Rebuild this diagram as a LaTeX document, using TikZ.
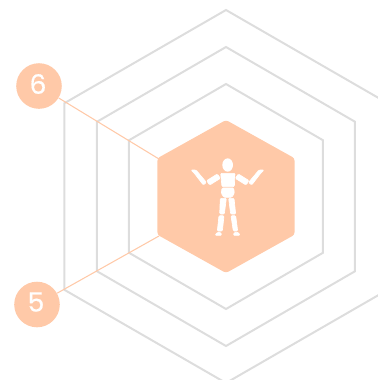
\documentclass[tikz,border=0pt]{standalone}
\usepackage{fontspec}
\setmainfont{Poppins}
\newfontfamily\digitfont{Poppins}[FakeBold=0.5]
\definecolor{peach}{HTML}{FFC9A8}
\definecolor{hexgrey}{HTML}{DDDDDD}
\tikzset{
  x=0.75pt,y=-0.75pt,
  hexline/.style={draw=hexgrey,line width=1.5pt,line join=miter},
  leader/.style={draw=peach,line width=0.8pt},
  badge/.style={circle,fill=peach,draw=none,minimum size=34.2pt,inner sep=0pt},
  digit/.style={text=white,font=\digitfont\fontsize{20}{20}\selectfont,inner sep=0pt},
  body/.style={fill=white,draw=white,line width=0.5pt,line join=round,rounded corners=0.8pt},
}
\newcommand{\hexpath}[2]{(226,196.5-#1) -- (226+#2,196.5-#1/2) -- (226+#2,196.5+#1/2) -- (226,196.5+#1) -- (226-#2,196.5+#1/2) -- (226-#2,196.5-#1/2) -- cycle}
\begin{document}
\begin{tikzpicture}
\useasboundingbox (0,0) rectangle (378,380);
\clip (0,0) rectangle (378,380);
\draw[hexline] \hexpath{186.5}{161.7};
\draw[hexline] \hexpath{149.5}{129};
\draw[hexline] \hexpath{112.5}{97};
\coordinate (hexUL) at (159,159);
\coordinate (hexLL) at (159,236);
\node[badge] (six) at (39,86) {};
\node[badge] (five) at (37,304.5) {};
\draw[leader] (six) -- (hexUL);
\draw[leader] (five) -- (hexLL);
\node[digit] (sixlabel) at (38,84) {6};
\node[digit] (fivelabel) at (36,302) {5};
\fill[peach,rounded corners=2pt] \hexpath{76.5}{68.6};
% figure
\begin{scope}[shift={(180,150)},x=0.25pt,y=-0.25pt]
\fill[white] (143,45) ellipse [x radius=16,y radius=20];
\path[body] (122,70) -- (165,70) -- (163,110) -- (126,110) -- cycle;
\path[body] (126,114) -- (161,114) -- (163,130) -- (155,142) -- (132,142) -- (124,130) -- cycle;
\path[body] (121,145) -- (139,145) -- (133,192) -- (119,192) -- cycle;
\path[body] (146,145) -- (162,145) -- (167,192) -- (152,192) -- cycle;
\path[body] (117,197) -- (132,197) -- (127,243) -- (112,243) -- cycle;
\path[body] (153,197) -- (167,197) -- (173,243) -- (160,243) -- cycle;
\path[body] (105,256) -- (125,256) -- (122,247) -- (112,247) -- cycle;
\path[body] (160,256) -- (180,256) -- (175,247) -- (163,247) -- cycle;
\path[body] (112,72) -- (121,85) -- (89,105) -- (80,92) -- cycle;
\path[body] (175,72) -- (166,85) -- (198,105) -- (207,92) -- cycle;
\path[body] (33,60) -- (48,60) -- (79,97) -- (70,105) -- (44,71) -- cycle;
\path[body] (252,60) -- (237,60) -- (206,97) -- (215,105) -- (241,71) -- cycle;
\end{scope}
\end{tikzpicture}
\end{document}
